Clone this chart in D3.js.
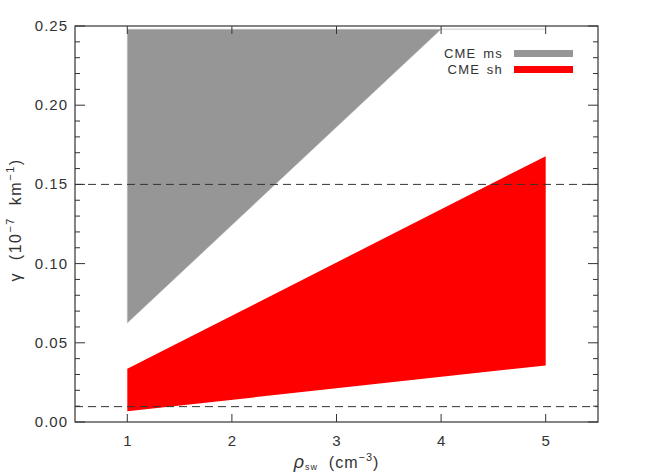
<!DOCTYPE html>
<html>
<head>
<meta charset="utf-8">
<script src="https://cdn.jsdelivr.net/npm/d3@7"></script>
<style>
  body { margin:0; background:#fff; }
  text { font-family: "Liberation Sans", Arial, sans-serif; fill:#333; }
</style>
</head>
<body>
<div id="chart"></div>
<script>
// data
var msRho  = [1, 4, 5];
var msLow  = [0.0625, 0.248, 0.248];
var msHigh = [0.248, 0.248, 0.248];
var shRho  = [1, 5];
var shLow  = [0.0068, 0.0357];
var shHigh = [0.0336, 0.1678];
var refLines = [0.15, 0.0097];
var xTicks = [1, 2, 3, 4, 5];
var yTicks = [0.00, 0.05, 0.10, 0.15, 0.20, 0.25];
var legendNames = ["CME ms", "CME sh"];
var legendColors = ["#969696", "#ff0000"];

var size = { width:665, height:475 };
var margin = { left:75, right:67, top:26, bottom:53 };
var w = size.width - margin.left - margin.right;
var h = size.height - margin.top - margin.bottom;

var svg = d3.select("#chart").append("svg")
    .attr("width", size.width).attr("height", size.height);
var g = svg.append("g")
    .attr("transform", "translate(" + margin.left + "," + margin.top + ")");

var x = d3.scaleLinear().domain([0.5, 5.5]).range([0, w]);
var y = d3.scaleLinear().domain([0, 0.25]).range([h, 0]);

// shaded regions
var area = d3.area()
    .x(function(d){ return x(d.x); })
    .y0(function(d){ return y(d.lo); })
    .y1(function(d){ return y(d.hi); });

var ms = msRho.map(function(r, i){ return { x:r, lo:msLow[i], hi:msHigh[i] }; });
var sh = shRho.map(function(r, i){ return { x:r, lo:shLow[i], hi:shHigh[i] }; });

g.append("path").datum(ms).attr("d", area)
    .attr("fill", legendColors[0]).attr("stroke", "#bdbdbd").attr("stroke-width", 0.5);
g.append("path").datum(sh).attr("d", area)
    .attr("fill", legendColors[1]);

// dashed reference lines
g.selectAll(".ref").data(refLines).enter().append("line")
    .attr("class", "ref")
    .attr("x1", 0).attr("x2", w)
    .attr("y1", function(d){ return y(d); }).attr("y2", function(d){ return y(d); })
    .attr("stroke", "#333").attr("stroke-width", 1)
    .attr("stroke-dasharray", "8,5");

// frame
g.append("rect").attr("width", w).attr("height", h)
    .attr("fill", "none").attr("stroke", "#333").attr("stroke-width", 1.2);

// y ticks (major + minor), both sides pointing inward
var yMinor = d3.range(0, 0.2501, 0.01);
yMinor.forEach(function(v){
    var major = Math.abs(Math.round(v * 100) % 5) === 0;
    var len = major ? 10 : 5;
    g.append("line").attr("x1", 0).attr("x2", len)
        .attr("y1", y(v)).attr("y2", y(v)).attr("stroke", "#333");
    g.append("line").attr("x1", w).attr("x2", w - len)
        .attr("y1", y(v)).attr("y2", y(v)).attr("stroke", "#333");
});
g.selectAll(".ylab").data(yTicks).enter().append("text")
    .attr("class", "ylab")
    .attr("x", -7).attr("y", function(d){ return y(d) + 5; })
    .attr("text-anchor", "end").style("font-size", "15px").style("letter-spacing", "1px")
    .text(function(d){ return d3.format(".2f")(d); });

// x ticks
xTicks.forEach(function(v){
    g.append("line").attr("x1", x(v)).attr("x2", x(v))
        .attr("y1", h).attr("y2", h - 8).attr("stroke", "#333");
    g.append("line").attr("x1", x(v)).attr("x2", x(v))
        .attr("y1", 0).attr("y2", 8).attr("stroke", "#333");
});
g.selectAll(".xlab").data(xTicks).enter().append("text")
    .attr("class", "xlab")
    .attr("x", function(d){ return x(d); }).attr("y", h + 24)
    .attr("text-anchor", "middle").style("font-size", "15px")
    .text(function(d){ return d; });

// axis titles
var xt = g.append("text").attr("x", w / 2).attr("y", h + 46)
    .attr("text-anchor", "middle").style("font-size", "16px").style("letter-spacing", "1px");
xt.append("tspan").text("ρ").style("font-style", "italic").style("font-size", "18px");
xt.append("tspan").text("sw").attr("dy", 2).style("font-size", "9px");
xt.append("tspan").text("  (cm").attr("dy", -2).style("white-space", "pre");
xt.append("tspan").text("−3").attr("dy", -7).style("font-size", "11px");
xt.append("tspan").text(")").attr("dy", 7);

var yt = svg.append("text")
    .attr("transform", "translate(21," + (margin.top + h / 2 - 4) + ") rotate(-90)")
    .attr("text-anchor", "middle").style("font-size", "16px")
    .style("letter-spacing", "1.5px").style("white-space", "pre");
yt.append("tspan").text("γ  (10");
yt.append("tspan").text("−7").attr("dy", -7).style("font-size", "11px");
yt.append("tspan").text("  km").attr("dy", 7);
yt.append("tspan").text("−1").attr("dy", -7).style("font-size", "11px");
yt.append("tspan").text(")").attr("dy", 7);

// legend
var gl = svg.selectAll(".legend").data(legendNames).enter().append("g")
    .attr("class", "legend")
    .attr("transform", function(d, i){ return "translate(0," + (i * 16) + ")"; });
gl.append("text").attr("x", 503).attr("y", 58)
    .attr("text-anchor", "end").style("font-size", "13px").style("letter-spacing", "1.2px")
    .style("word-spacing", "2px")
    .text(function(d){ return d; });
gl.append("rect").attr("x", 514).attr("y", 50).attr("width", 59).attr("height", 7)
    .attr("fill", function(d, i){ return legendColors[i]; });
</script>
</body>
</html>
